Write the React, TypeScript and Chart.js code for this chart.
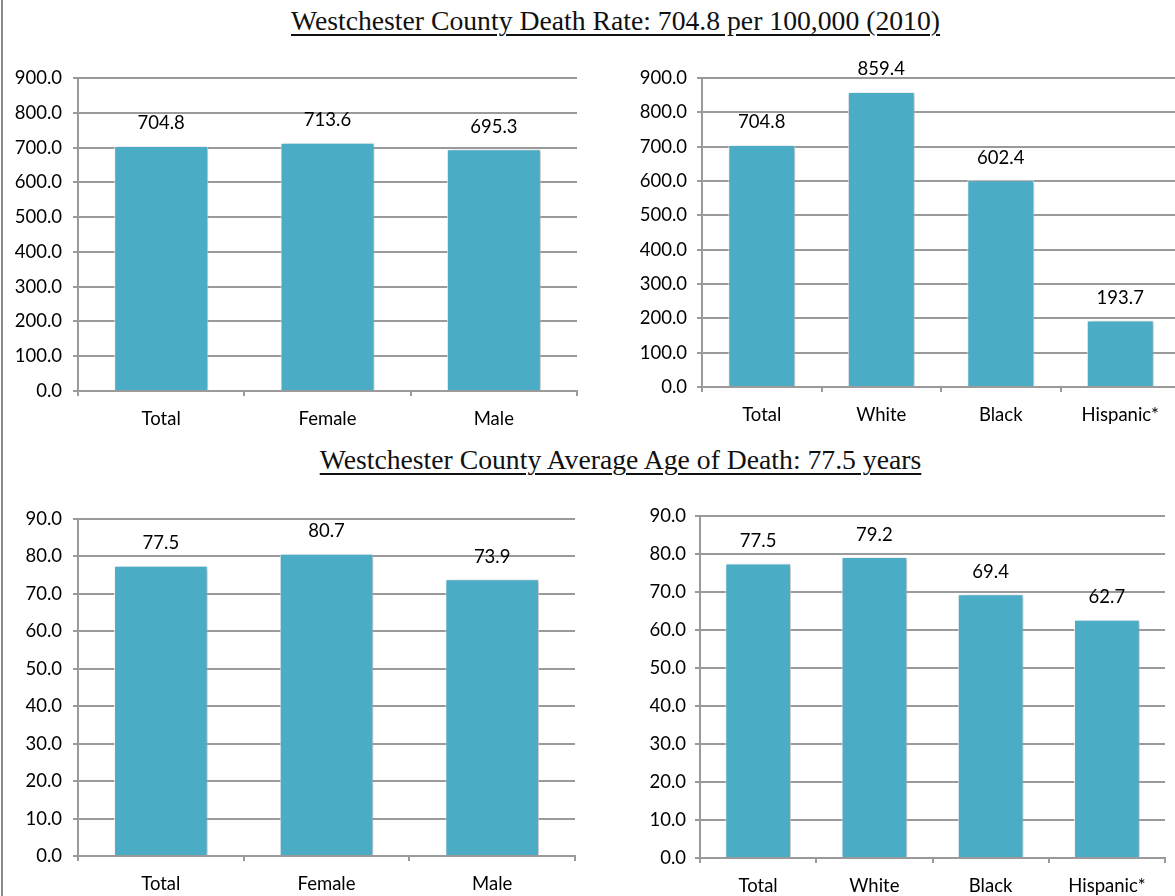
import React, { useEffect, useRef } from "react";
import { Chart, registerables } from "chart.js";

Chart.register(...registerables);

const sexCategories = ["Total", "Female", "Male"];
const raceCategories = ["Total", "White", "Black", "Hispanic*"];
const deathRateBySex = [704.8, 713.6, 695.3];
const deathRateByRace = [704.8, 859.4, 602.4, 193.7];
const ageBySex = [77.5, 80.7, 73.9];
const ageByRace = [77.5, 79.2, 69.4, 62.7];
const deathRateAxis = { max: 900, step: 100 };
const ageAxis = { max: 90, step: 10 };
const title1 = "Westchester County Death Rate: 704.8 per 100,000 (2010)";
const title2 = "Westchester County Average Age of Death: 77.5 years";

const BAR = "#4BACC6";
const GRID = "#9a9a9a";
const FONT = { family: "Lato, 'Open Sans', sans-serif", size: 18.5 };

type Box = { left: number; top: number; width: number; height: number };
type Area = { l: number; r: number; t: number; b: number };

const barPlugin = {
  id: "barDecor",
  beforeDatasetsDraw(chart: any) {
    const ctx = chart.ctx;
    ctx.save();
    ctx.shadowColor = "rgba(0,0,0,0.28)";
    ctx.shadowBlur = 4;
    ctx.shadowOffsetX = 2;
    ctx.shadowOffsetY = 1;
  },
  afterDatasetsDraw(chart: any) {
    const ctx = chart.ctx;
    ctx.restore();
    ctx.save();
    ctx.font = `${FONT.size}px ${FONT.family}`;
    ctx.fillStyle = "#000";
    ctx.textAlign = "center";
    ctx.textBaseline = "middle";
    const meta = chart.getDatasetMeta(0);
    const data = chart.data.datasets[0].data as number[];
    meta.data.forEach((el: any, i: number) => {
      ctx.fillText(data[i].toFixed(1), el.x, el.y - 22.5);
    });
    ctx.restore();
  },
};

function BarChart(props: {
  labels: string[];
  values: number[];
  max: number;
  step: number;
  box: Box;
  area: Area;
  yPad: number;
  barPct: number;
}) {
  const ref = useRef<HTMLCanvasElement>(null);
  const { labels, values, max, step, box, area, yPad, barPct } = props;
  useEffect(() => {
    if (!ref.current) return;
    const yWidth = area.l - box.left;
    const xHeight = box.top + box.height - area.b;
    const chart = new Chart(ref.current, {
      type: "bar",
      data: {
        labels,
        datasets: [
          {
            data: values,
            backgroundColor: BAR,
            borderColor: "rgba(255,255,255,0.85)",
            borderWidth: 1,
            barPercentage: barPct,
            categoryPercentage: 1,
          },
        ],
      },
      options: {
        responsive: false,
        animation: false,
        layout: {
          padding: {
            left: 0,
            top: area.t - box.top,
            right: box.left + box.width - area.r,
            bottom: 0,
          },
        },
        plugins: { legend: { display: false }, tooltip: { enabled: false } },
        scales: {
          x: {
            grid: {
              display: true,
              drawOnChartArea: false,
              drawTicks: true,
              tickLength: 5,
              color: GRID,
              lineWidth: 2,
              offset: true,
            },
            border: { display: true, color: GRID, width: 2 },
            ticks: { font: FONT, color: "#000", padding: 12, maxRotation: 0 },
            afterFit: (s: any) => {
              s.height = xHeight;
            },
          },
          y: {
            min: 0,
            max,
            ticks: {
              stepSize: step,
              font: FONT,
              color: "#000",
              padding: yPad,
              callback: (v: any) => Number(v).toFixed(1),
            },
            grid: { color: GRID, lineWidth: 2, tickLength: 5, drawTicks: true },
            border: { display: true, color: GRID, width: 2 },
            afterFit: (s: any) => {
              s.width = yWidth;
            },
          },
        },
      },
      plugins: [barPlugin],
    });
    return () => chart.destroy();
  }, []);
  return (
    <canvas
      ref={ref}
      width={box.width}
      height={box.height}
      style={{ position: "absolute", left: box.left, top: box.top, width: box.width, height: box.height }}
    />
  );
}

const titleStyle: React.CSSProperties = {
  position: "absolute",
  transform: "translateX(-50%)",
  whiteSpace: "nowrap",
  fontFamily: "'Liberation Serif', serif",
  fontSize: 27.7,
  lineHeight: "32px",
  color: "#111",
  textDecoration: "underline",
  textDecorationThickness: "2px",
  textUnderlineOffset: "4px",
};

export default function App() {
  return (
    <div
      style={{
        position: "fixed",
        left: 0,
        top: 0,
        width: 1175,
        height: 896,
        background: "#fff",
        overflow: "hidden",
      }}
    >
      <div style={{ position: "absolute", left: 1, top: 0, width: 2, height: 896, background: "#8a8a8a" }} />
      <div style={{ ...titleStyle, left: 615.5, top: 5 }}>{title1}</div>
      <div style={{ ...titleStyle, left: 620.5, top: 444 }}>{title2}</div>
      <BarChart
        labels={sexCategories}
        values={deathRateBySex}
        max={deathRateAxis.max}
        step={deathRateAxis.step}
        box={{ left: 0, top: 40, width: 590, height: 390 }}
        area={{ l: 78, r: 577, t: 78, b: 391 }}
        yPad={11}
        barPct={0.565}
      />
      <BarChart
        labels={raceCategories}
        values={deathRateByRace}
        max={deathRateAxis.max}
        step={deathRateAxis.step}
        box={{ left: 600, top: 40, width: 600, height: 390 }}
        area={{ l: 702, r: 1180, t: 78, b: 387 }}
        yPad={10}
        barPct={0.56}
      />
      <BarChart
        labels={sexCategories}
        values={ageBySex}
        max={ageAxis.max}
        step={ageAxis.step}
        box={{ left: 0, top: 480, width: 590, height: 416 }}
        area={{ l: 78, r: 575, t: 519, b: 856 }}
        yPad={11}
        barPct={0.565}
      />
      <BarChart
        labels={raceCategories}
        values={ageByRace}
        max={ageAxis.max}
        step={ageAxis.step}
        box={{ left: 600, top: 480, width: 575, height: 416 }}
        area={{ l: 700, r: 1165, t: 516, b: 858 }}
        yPad={9}
        barPct={0.565}
      />
    </div>
  );
}
